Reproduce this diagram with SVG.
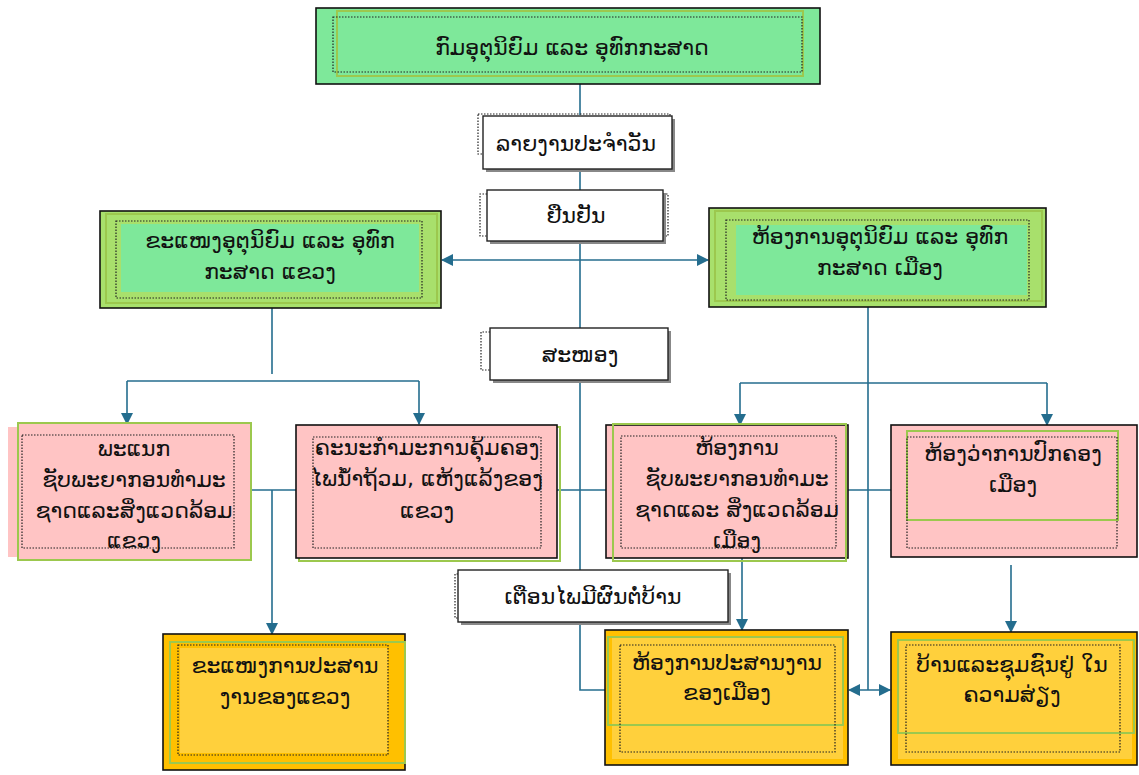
<svg xmlns="http://www.w3.org/2000/svg" width="1139" height="775" viewBox="0 0 1139 775">
<style>
text{font-family:"DejaVu Sans","Noto Sans",sans-serif;font-size:22px;fill:#111;text-anchor:middle}
.blk{stroke:#111;stroke-width:1.6}
.gb{fill:none;stroke:#9cc84e;stroke-width:2}
.dot{fill:none;stroke:#222;stroke-width:1.2;stroke-dasharray:1.5 1.5}
.g1{fill:#7ee89a}
.g2{fill:#a8e06c}
.pk{fill:#ffc4c4}
.or{fill:#ffc000}
.yl{fill:#ffd03c}
.lbl{fill:#fff;stroke:#222;stroke-width:1.4}
.sh{fill:#888}
.c{fill:none;stroke:#246d8e;stroke-width:1.6}
</style>
<defs>
<marker id="ah" viewBox="0 0 12 12" refX="11" refY="6" markerWidth="12" markerHeight="12" markerUnits="userSpaceOnUse" orient="auto-start-reverse">
<path d="M0,0 L12,6 L0,12 Z" fill="#246d8e"/>
</marker>
</defs>

<g id="connectors">
<path class="c" d="M580,84 V115"/>
<path class="c" d="M580,169 V190"/>
<path class="c" d="M580,241 V328"/>
<path class="c" d="M580,380 V570"/>
<path class="c" d="M580,622 V690 H605"/>
<path class="c" d="M442,260 H708" marker-start="url(#ah)" marker-end="url(#ah)"/>
<path class="c" d="M272,308 V374"/>
<path class="c" d="M127,381 H419"/>
<path class="c" d="M127,381 V424" marker-end="url(#ah)"/>
<path class="c" d="M419,381 V424" marker-end="url(#ah)"/>
<path class="c" d="M251,490 H296"/>
<path class="c" d="M557,490 H606"/>
<path class="c" d="M848,490 H891"/>
<path class="c" d="M272,490 V634" marker-end="url(#ah)"/>
<path class="c" d="M868,307 V690"/>
<path class="c" d="M740,383 H1047"/>
<path class="c" d="M740,383 V425" marker-end="url(#ah)"/>
<path class="c" d="M1047,383 V425" marker-end="url(#ah)"/>
<path class="c" d="M742,558 V630" marker-end="url(#ah)"/>
<path class="c" d="M1011,565 V632" marker-end="url(#ah)"/>
<path class="c" d="M849,690 H890" marker-start="url(#ah)" marker-end="url(#ah)"/>
</g>

<g id="top">
<rect class="g1 blk" x="316" y="8" width="504" height="76"/>
<rect class="gb" x="337" y="11" width="466" height="65"/>
<rect class="dot" x="333" y="17" width="469" height="55"/>
<text x="572" y="55" font-size="24">ກົມອຸຕຸນິຍົມ ແລະ ອຸທົກກະສາດ</text>
</g>

<g id="lbl-daily">
<rect class="dot" x="478" y="114" width="192" height="40"/>
<rect class="sh" x="486" y="119" width="189" height="53"/>
<rect class="lbl" x="483" y="116" width="189" height="53"/>
<text x="576" y="151">ລາຍງານປະຈຳວັນ</text>
</g>

<g id="lbl-confirm">
<path class="dot" d="M487,194 H480 V236 H487 M663,194 H668 V236 H663"/>
<rect class="sh" x="490" y="193" width="176" height="51"/>
<rect class="lbl" x="487" y="190" width="176" height="51"/>
<text x="576" y="223">ຢືນຢັນ</text>
</g>

<g id="prov-office">
<rect class="g2 blk" x="100" y="211" width="341" height="97"/>
<rect class="gb" x="106" y="214" width="331" height="89"/>
<rect class="g1" x="121" y="224" width="298" height="68"/>
<rect class="dot" x="116" y="221" width="306" height="77"/>
<text x="270" y="248">ຂະແໜງອຸຕຸນິຍົມ ແລະ ອຸທົກ</text>
<text x="270" y="279">ກະສາດ ແຂວງ</text>
</g>

<g id="dist-office">
<rect class="g2 blk" x="709" y="208" width="337" height="99"/>
<rect class="gb" x="715" y="211" width="327" height="90"/>
<rect class="g1" x="736" y="225" width="291" height="70"/>
<rect class="dot" x="726" y="220" width="303" height="80"/>
<text x="880" y="244">ຫ້ອງການອຸຕຸນິຍົມ ແລະ ອຸທົກ</text>
<text x="880" y="275">ກະສາດ ເມືອງ</text>
</g>

<g id="lbl-supply">
<path class="dot" d="M490,332 H481 V370 H490 M668,332 V370"/>
<rect class="sh" x="493" y="331" width="178" height="52"/>
<rect class="lbl" x="490" y="328" width="178" height="52"/>
<text x="580" y="362">ສະໜອງ</text>
</g>

<g id="prov-nre">
<rect class="pk" x="8" y="427" width="242" height="130"/>
<rect class="pk gb" x="18" y="423" width="233" height="137"/>
<rect class="dot" x="22" y="435" width="212" height="113"/>
<text x="134" y="456">ພະແນກ</text>
<text x="134" y="487">ຊັບພະຍາກອນທຳມະ</text>
<text x="134" y="518">ຊາດແລະສິ່ງແວດລ້ອມ</text>
<text x="134" y="548">ແຂວງ</text>
</g>

<g id="prov-committee">
<rect class="gb" x="299" y="427" width="261" height="134"/>
<rect class="pk blk" x="296" y="425" width="261" height="133"/>
<rect class="dot" x="313" y="437" width="228" height="111"/>
<text x="427" y="455">ຄະນະກຳມະການຄຸ້ມຄອງ</text>
<text x="427" y="486">ໄພນ້ຳຖ້ວມ, ແຫ້ງແລ້ງຂອງ</text>
<text x="427" y="518">ແຂວງ</text>
</g>

<g id="dist-nre">
<rect class="pk blk" x="606" y="425" width="242" height="133"/>
<rect class="gb" x="613" y="424" width="233" height="137"/>
<rect class="dot" x="621" y="436" width="215" height="112"/>
<text x="737" y="455">ຫ້ອງການ</text>
<text x="737" y="486">ຊັບພະຍາກອນທຳມະ</text>
<text x="737" y="517">ຊາດແລະ ສິ່ງແວດລ້ອມ</text>
<text x="737" y="548">ເມືອງ</text>
</g>

<g id="dist-admin">
<rect class="pk blk" x="891" y="425" width="246" height="132"/>
<rect class="gb" x="907" y="431" width="211" height="89"/>
<rect class="dot" x="907" y="437" width="210" height="111"/>
<text x="1013" y="461">ຫ້ອງວ່າການປົກຄອງ</text>
<text x="1013" y="492">ເມືອງ</text>
</g>

<g id="lbl-warning">
<path class="dot" d="M458,574 H455 V618 H458"/>
<rect class="sh" x="461" y="573" width="270" height="52"/>
<rect class="lbl" x="458" y="570" width="270" height="52"/>
<text x="593" y="604">ເຕືອນໄພມີຜົນຕໍ່ບ້ານ</text>
</g>

<g id="prov-coord">
<rect class="or blk" x="163" y="634" width="242" height="136"/>
<rect class="yl" x="180" y="648" width="208" height="105"/>
<rect class="gb" x="170" y="642" width="235" height="121"/>
<rect class="dot" x="178" y="645" width="210" height="110"/>
<text x="285" y="673">ຂະແໜງການປະສານ</text>
<text x="285" y="704">ງານຂອງແຂວງ</text>
</g>

<g id="dist-coord">
<rect class="or blk" x="605" y="630" width="243" height="135"/>
<rect class="yl" x="612" y="637" width="231" height="122"/>
<rect class="gb" x="608" y="637" width="235" height="88"/>
<rect class="dot" x="620" y="645" width="215" height="107"/>
<text x="727" y="670">ຫ້ອງການປະສານງານ</text>
<text x="727" y="700">ຂອງເມືອງ</text>
</g>

<g id="villages">
<rect class="or blk" x="891" y="632" width="246" height="133"/>
<rect class="yl" x="898" y="639" width="234" height="120"/>
<rect class="gb" x="898" y="640" width="236" height="93"/>
<rect class="dot" x="906" y="645" width="214" height="107"/>
<text x="1012" y="672">ບ້ານແລະຊຸມຊົນຢູ່ ໃນ</text>
<text x="1012" y="702">ຄວາມສ່ຽງ</text>
</g>
</svg>
